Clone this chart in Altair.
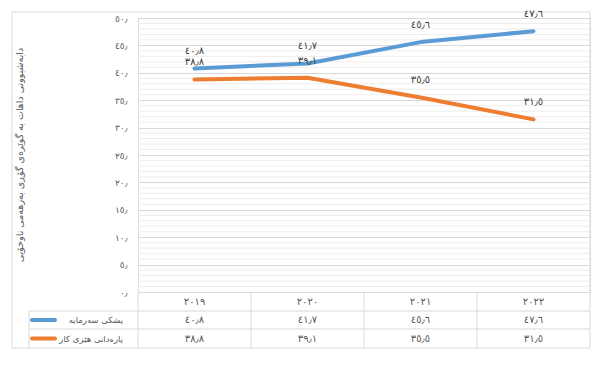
import altair as alt
import pandas as pd

years = ["2019", "2020", "2021", "2022"]
series_names = ["پشکی سەرمایە", "پارەدانی هێزی کار"]
capital = [40.8, 41.7, 45.6, 47.6]
labour = [38.8, 39.1, 35.5, 31.5]
colors = ["#5b9bd5", "#ed7d31"]
y_title = "دابەشبوونی داهات بە گوێرەی گۆڕی بەرهەمی ناوخۆیی"
major_ticks = [0, 5, 10, 15, 20, 25, 30, 35, 40, 45, 50]
minor_ticks = [v for v in range(0, 51) if v % 5 != 0]

AR = str.maketrans("0123456789.", "٠١٢٣٤٥٦٧٨٩٫")
def ar(s):
    return str(s).translate(AR)

rows = []
for name, vals in zip(series_names, [capital, labour]):
    for y, v in zip(years, vals):
        rows.append({"year": y, "year_ar": ar(y), "series": name, "value": v, "label": ar(f"{v:.1f}")})
df = pd.DataFrame(rows)

FONT = "DejaVu Sans"
W, H = 452, 274
GRID = "#d9d9d9"
MINOR = "#ededed"

xband = alt.Scale(type="band", paddingInner=0, paddingOuter=0, domain=years)
yscale = alt.Scale(domain=[0, 50], nice=False)
color = alt.Color("series:N", scale=alt.Scale(domain=series_names, range=colors), legend=None)

label_expr = ("replace(replace(replace(replace(replace(replace(replace(replace(replace(replace("
              "toString(datum.value),'0','٠'),'1','١'),'2','٢'),'3','٣'),'4','٤'),'5','٥'),'6','٦'),"
              "'7','٧'),'8','٨'),'9','٩') + '٫'")
yaxis = alt.Axis(values=major_ticks, title=None, ticks=False, domain=False,
                 labelExpr=label_expr, labelOverlap=False,
                 labelFont=FONT, labelFontSize=9, labelColor="#595959", labelPadding=11,
                 gridColor=GRID, gridWidth=1)

base = alt.Chart(df)

minor_grid = alt.Chart(pd.DataFrame({"value": minor_ticks})).mark_rule(color=MINOR, strokeWidth=1).encode(
    y=alt.Y("value:Q", scale=yscale, axis=yaxis, title=None),
    x=alt.value(0), x2=alt.value(W),
)

# main lines
lines = base.mark_line(strokeWidth=4, strokeCap="round", strokeJoin="round").encode(
    x=alt.X("year:O", scale=xband, axis=None, bandPosition=0.5),
    y=alt.Y("value:Q", scale=yscale, axis=yaxis, title=None),
    color=color,
    detail="series:N",
)

labels = base.mark_text(font=FONT, fontSize=10, color="#404040", dy=-17, baseline="middle").encode(
    x=alt.X("year:O", scale=xband, axis=None, bandPosition=0.5),
    y=alt.Y("value:Q", scale=yscale, axis=yaxis, title=None),
    text="label:N",
)

# data table
year_text = base.transform_filter(alt.datum.series == series_names[0]).mark_text(
    font=FONT, fontSize=10, color="#595959", baseline="middle").encode(
    x=alt.X("year:O", scale=xband, axis=None, bandPosition=0.5),
    y=alt.value(283.5),
    text="year_ar:N",
)
row_y = [302, 320.5]
val_layers = []
for name, ry in zip(series_names, row_y):
    val_layers.append(base.transform_filter(alt.datum.series == name).mark_text(
        font=FONT, fontSize=10, color="#595959", baseline="middle").encode(
        x=alt.X("year:O", scale=xband, axis=None, bandPosition=0.5),
        y=alt.value(ry),
        text="label:N",
    ))

one = alt.Data(values=[{}])
def hrule(x0, x1, y):
    return alt.Chart(one).mark_rule(color=GRID, strokeWidth=1).encode(
        x=alt.value(x0), x2=alt.value(x1), y=alt.value(y))
def vrule(x, y0, y1):
    return alt.Chart(one).mark_rule(color=GRID, strokeWidth=1).encode(
        x=alt.value(x), y=alt.value(y0), y2=alt.value(y1))

vlines = base.transform_filter(alt.datum.series == series_names[0]).mark_rule(color=GRID, strokeWidth=1).encode(
    x=alt.X("year:O", scale=xband, axis=None, bandPosition=0),
    y=alt.value(274), y2=alt.value(330),
)

table_rules = [hrule(-109, W, 293), hrule(-109, W, 311), vrule(-109, 293, 330)]

border = alt.Chart(one).mark_rect(fill=None, stroke=GRID, strokeWidth=1).encode(
    x=alt.value(-126), x2=alt.value(W), y=alt.value(-6), y2=alt.value(330))

legend_layers = []
for name, c, ry in zip(series_names, colors, row_y):
    legend_layers.append(alt.Chart(one).mark_rule(color=c, strokeWidth=4, strokeCap="round").encode(
        x=alt.value(-106), x2=alt.value(-83), y=alt.value(ry)))
    legend_layers.append(alt.Chart(one).mark_text(font=FONT, fontSize=8.5, color="#595959",
                                                  align="right", baseline="middle").encode(
        x=alt.value(-15), y=alt.value(ry), text=alt.value(name)))

title = alt.Chart(one).mark_text(font=FONT, fontSize=9.5, color="#595959", angle=270,
                                 baseline="middle", align="center").encode(
    x=alt.value(-118), y=alt.value(137), text=alt.value(y_title))

chart = alt.layer(
    minor_grid, border, vlines, *table_rules, lines, labels, year_text, *val_layers, *legend_layers, title
).properties(
    width=W, height=H,
    autosize=alt.AutoSizeParams(type="none"),
    padding={"left": 130, "top": 10, "right": 2, "bottom": 64},
).configure_view(stroke=None).configure(background="white")

chart.save("out.html", embed_options={"renderer": "svg", "actions": False})
